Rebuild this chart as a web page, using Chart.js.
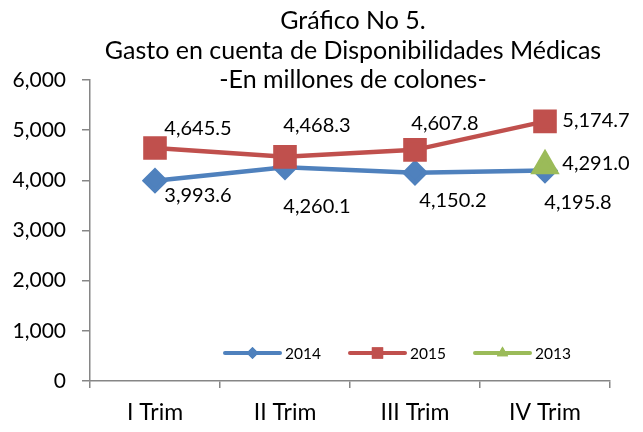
<!DOCTYPE html>
<html>
<head>
<meta charset="utf-8">
<script src="https://cdn.jsdelivr.net/npm/chart.js@4"></script>
<style>
    body { margin: 0; background: #fff; }
    .wrap { width: 643px; height: 432px; position: relative; }
</style>
</head>
<body>
<div class="wrap"><canvas id="gastoChart"></canvas></div>
<script>
// Data
const categories = ['I Trim', 'II Trim', 'III Trim', 'IV Trim'];
const values2014 = [3993.6, 4260.1, 4150.2, 4195.8];
const values2015 = [4645.5, 4468.3, 4607.8, 5174.7];
const values2013 = [null, null, null, 4291.0];
const yTicks = [0, 1000, 2000, 3000, 4000, 5000, 6000];
const titleLines = ['Gráfico No 5.', 'Gasto en cuenta de Disponibilidades Médicas', '-En millones de colones-'];

const FONT = 'Lato, "Open Sans", sans-serif';
const AXIS_GRAY = '#868686';

const fmt = v => v.toLocaleString('en-US', { minimumFractionDigits: 1, maximumFractionDigits: 1 });

// Title drawn over the top of the plot (Excel style)
const titlePlugin = {
    id: 'titleLines',
    afterDraw(chart) {
        const ctx = chart.ctx;
        ctx.save();
        ctx.fillStyle = '#000';
        ctx.font = '25px ' + FONT;
        ctx.textAlign = 'center';
        ctx.textBaseline = 'middle';
        titleLines.forEach((line, i) => ctx.fillText(line, 353, 21 + i * 29.5));
        ctx.restore();
    }
};

// Value labels next to each point
const valueLabels = {
    id: 'valueLabels',
    afterDatasetsDraw(chart) {
        const ctx = chart.ctx;
        ctx.save();
        ctx.fillStyle = '#000';
        ctx.font = '20px ' + FONT;
        ctx.textAlign = 'center';
        ctx.textBaseline = 'middle';
        chart.data.datasets.forEach((ds, di) => {
            const meta = chart.getDatasetMeta(di);
            meta.data.forEach((pt, i) => {
                const v = ds.data[i];
                if (v === null || pt.skip) return;
                const off = ds.labelOffsets[i];
                ctx.fillText(fmt(v), pt.x + off[0], pt.y + off[1]);
            });
        });
        ctx.restore();
    }
};

// Legend inside the plot, line + marker samples
const insideLegend = {
    id: 'insideLegend',
    afterDatasetsDraw(chart) {
        const ctx = chart.ctx;
        const y = 353;
        let x = 225;
        ctx.save();
        ctx.font = '15.5px ' + FONT;
        ctx.textBaseline = 'middle';
        chart.data.datasets.forEach(ds => {
            ctx.strokeStyle = ds.borderColor;
            ctx.lineWidth = 4;
            ctx.lineCap = 'round';
            ctx.beginPath();
            ctx.moveTo(x, y);
            ctx.lineTo(x + 55, y);
            ctx.stroke();
            ctx.fillStyle = ds.borderColor;
            Chart.helpers.drawPoint(ctx, { pointStyle: ds.pointStyle, radius: ds.legendRadius, borderWidth: 0 }, x + 27.5, y);
            ctx.fill();
            ctx.fillStyle = '#000';
            ctx.fillText(ds.label, x + 60, y + 1);
            x += 125;
        });
        ctx.restore();
    }
};

const ctx = document.getElementById('gastoChart').getContext('2d');
const gastoChart = new Chart(ctx, {
    type: 'line',
    data: {
        labels: categories,
        datasets: [{
            label: '2014',
            data: values2014,
            order: 2,
            borderColor: '#4F81BD',
            backgroundColor: '#4F81BD',
            borderWidth: 4.5,
            pointStyle: 'rectRot',
            pointRadius: 10,
            legendRadius: 6,
            labelOffsets: [[43, 15], [32, 39], [38, 28], [33, 32]]
        }, {
            label: '2015',
            data: values2015,
            order: 1,
            borderColor: '#C0504D',
            backgroundColor: '#C0504D',
            borderWidth: 4.5,
            pointStyle: 'rect',
            pointRadius: 13.5,
            legendRadius: 8,
            labelOffsets: [[43, -19], [32, -31], [30, -26], [51, -1]]
        }, {
            label: '2013',
            data: values2013,
            order: 0,
            borderColor: '#9BBB59',
            backgroundColor: '#9BBB59',
            borderWidth: 4.5,
            pointStyle: 'triangle',
            pointRadius: 12.5,
            legendRadius: 6.5,
            labelOffsets: [[0, 0], [0, 0], [0, 0], [51, -2]]
        }]
    },
    options: {
        responsive: true,
        maintainAspectRatio: false,
        animation: false,
        devicePixelRatio: 1,
        layout: {
            padding: { top: 80, right: 33, left: 0, bottom: 0 }
        },
        elements: {
            line: { tension: 0 },
            point: { borderWidth: 1, hoverRadius: 10 }
        },
        scales: {
            x: {
                offset: true,
                grid: {
                    offset: true,
                    drawOnChartArea: false,
                    drawTicks: true,
                    tickLength: 7,
                    color: AXIS_GRAY,
                    lineWidth: 1.5
                },
                border: { color: AXIS_GRAY, width: 1.5 },
                ticks: {
                    color: '#000',
                    padding: 11,
                    font: { family: FONT, size: 23 }
                },
                afterFit(scale) { scale.height = 51; }
            },
            y: {
                min: yTicks[0],
                max: yTicks[yTicks.length - 1],
                afterBuildTicks(scale) { scale.ticks = yTicks.map(v => ({ value: v })); },
                grid: {
                    drawOnChartArea: false,
                    drawTicks: true,
                    tickLength: 8,
                    color: AXIS_GRAY,
                    lineWidth: 1.5
                },
                border: { color: AXIS_GRAY, width: 1.5 },
                ticks: {
                    color: '#000',
                    padding: 16,
                    font: { family: FONT, size: 21 },
                    callback: v => v.toLocaleString('en-US')
                },
                afterFit(scale) { scale.width = 90; }
            }
        },
        plugins: {
            legend: { display: false },
            title: { display: false },
            tooltip: { enabled: false }
        }
    },
    plugins: [titlePlugin, valueLabels, insideLegend]
});
</script>
</body>
</html>
